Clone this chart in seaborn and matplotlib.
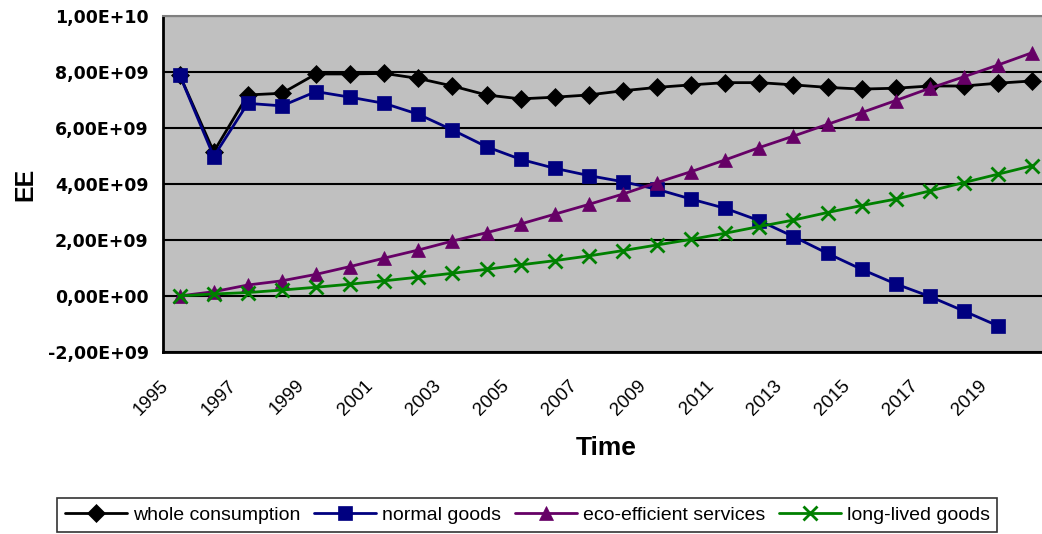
import numpy as np
import pandas as pd
import matplotlib
matplotlib.use("Agg")
import matplotlib.pyplot as plt
import matplotlib.transforms as mtransforms
import seaborn as sns
from matplotlib.ticker import FuncFormatter, FixedLocator

years = list(range(1995, 2021))
whole_consumption = [7.90, 5.15, 7.18, 7.24, 7.93, 7.93, 7.95, 7.77, 7.50, 7.18, 7.04, 7.10, 7.18,
                     7.33, 7.45, 7.54, 7.62, 7.62, 7.54, 7.45, 7.39, 7.42, 7.50, 7.50, 7.60, 7.68]
normal_goods = [7.90, 4.98, 6.88, 6.79, 7.30, 7.10, 6.88, 6.49, 5.93, 5.33, 4.88, 4.56, 4.30,
                4.08, 3.81, 3.46, 3.13, 2.69, 2.12, 1.52, 0.95, 0.43, -0.02, -0.54, -1.07, np.nan]
eco_efficient = [0.00, 0.15, 0.39, 0.54, 0.77, 1.05, 1.35, 1.64, 1.96, 2.26, 2.57, 2.92, 3.27,
                 3.64, 4.05, 4.44, 4.86, 5.30, 5.71, 6.13, 6.55, 6.98, 7.42, 7.83, 8.25, 8.69]
long_lived = [0.00, 0.07, 0.12, 0.21, 0.31, 0.42, 0.54, 0.67, 0.81, 0.95, 1.11, 1.26, 1.43,
              1.62, 1.82, 2.02, 2.24, 2.48, 2.71, 2.98, 3.23, 3.46, 3.75, 4.05, 4.35, 4.65]
series_names = ["whole consumption", "normal goods", "eco-efficient services", "long-lived goods"]
scale = 1e9

sns.set_style("white")
plt.rcParams['font.family'] = ['Liberation Sans', 'DejaVu Sans']
plt.rcParams['text.color'] = 'black'
plt.rcParams['axes.labelcolor'] = 'black'
plt.rcParams['xtick.color'] = 'black'
plt.rcParams['ytick.color'] = 'black'

fig = plt.figure(figsize=(10.42, 5.34), dpi=100)
ax = fig.add_axes([0.156, 0.341, 0.844, 0.629])
ax.set_facecolor("#C0C0C0")

styles = [
    (whole_consumption, "#000000", "D", 9.5, 0.5),
    (normal_goods, "#000080", "s", 10.5, 0.5),
    (eco_efficient, "#660066", "^", 10.5, 0.5),
    (long_lived, "#008000", "x", 10, 2.0),
]
x = np.arange(len(years))
for name, (vals, col, mk, ms, mew) in zip(series_names, styles):
    y = np.array(vals, dtype=float) * scale
    sns.lineplot(x=x, y=y, ax=ax, color=col, marker=mk, markersize=ms,
                 markeredgewidth=mew, markeredgecolor=col,
                 linewidth=2, label=name, zorder=3)

ax.set_ylim(-2e9, 1e10)
ax.set_yticks(np.arange(-2e9, 1.0001e10, 2e9))
ax.yaxis.set_major_formatter(FuncFormatter(
    lambda v, p: ("%.2E" % v).replace(".", ",")))
ax.grid(axis="y", color="black", linewidth=1.5, zorder=1)
ax.set_axisbelow(True)

ax.set_xlim(-0.5, 25.29)
ax.xaxis.set_major_locator(FixedLocator(x[::2]))
ax.xaxis.set_minor_locator(FixedLocator(np.arange(-0.5, 26, 1)))
ax.tick_params(axis="x", which="major", length=0, pad=18)
ax.tick_params(axis="x", which="minor", length=6, width=1.5, color="black", direction="out")
ax.tick_params(axis="y", length=6, width=1.5, color="black", direction="out", pad=4)
ax.set_xticklabels([str(v) for v in years[::2]], rotation=45, ha="right",
                   rotation_mode="anchor", fontsize=13.5, color="black")
offset = mtransforms.ScaledTranslation(-20 / 100, 0, fig.dpi_scale_trans)
for lab in ax.get_xticklabels():
    lab.set_transform(lab.get_transform() + offset)
for lab in ax.get_yticklabels():
    lab.set_fontweight("bold")
    lab.set_fontsize(12.5)
    lab.set_family("DejaVu Sans")
    lab.set_color("black")

for s in ["left", "bottom"]:
    ax.spines[s].set_color("black")
    ax.spines[s].set_linewidth(2)
ax.spines["top"].set_color("#808080")
ax.spines["top"].set_linewidth(1.5)
ax.spines["right"].set_visible(False)

ax.set_ylabel("EE", fontsize=18, fontweight="bold", color="black")
ax.yaxis.set_label_coords(-0.142, 0.5)
ax.set_xlabel("Time", fontsize=19, fontweight="bold", color="black")
ax.xaxis.set_label_coords(0.505, -0.25)

ax.legend_.remove()
h, l = ax.get_legend_handles_labels()
leg = fig.legend(h, l, loc="center", bbox_to_anchor=(0.506, 0.0356), ncol=4,
                 frameon=True, fancybox=False, edgecolor="black",
                 handlelength=3.2, handletextpad=0.3, columnspacing=0.7,
                 borderpad=0.4, prop={"family": ["Liberation Sans"], "size": 14})
leg.get_frame().set_linewidth(1.2)
for t in leg.get_texts():
    t.set_color("black")

fig.savefig("out.png", dpi=100)
